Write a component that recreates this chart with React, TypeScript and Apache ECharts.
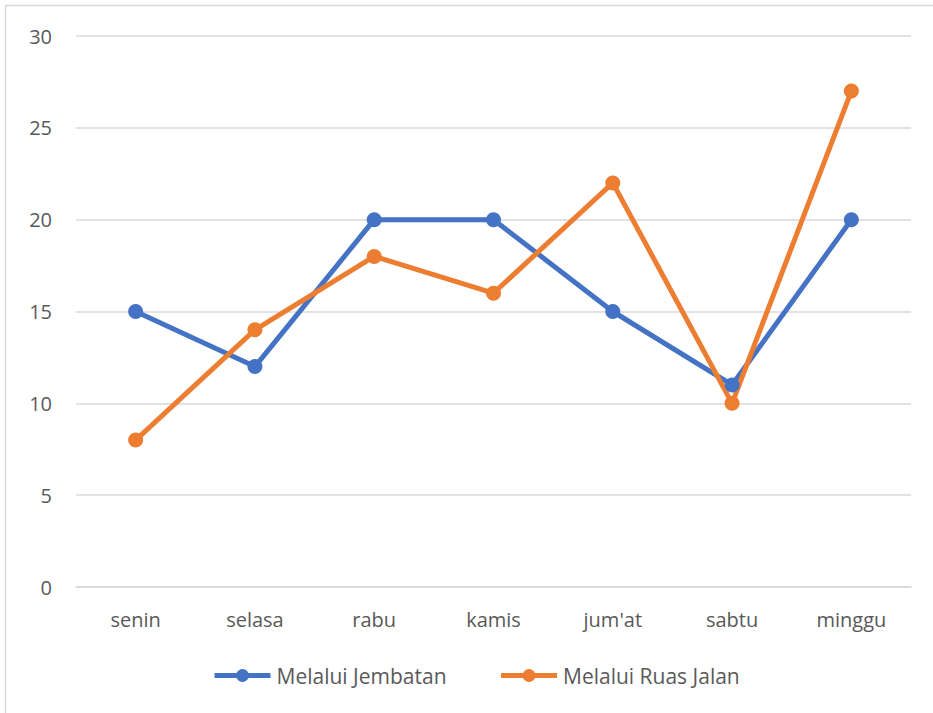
import React, { useEffect, useRef } from "react";
import * as echarts from "echarts";

const categories = ["senin", "selasa", "rabu", "kamis", "jum'at", "sabtu", "minggu"];
const jembatan = [15, 12, 20, 20, 15, 11, 20];
const ruasJalan = [8, 14, 18, 16, 22, 10, 27];
const seriesNames = ["Melalui Jembatan", "Melalui Ruas Jalan"];

const FONT = "Open Sans";
const FS = 20;

export default function App() {
  const ref = useRef<HTMLDivElement>(null);
  useEffect(() => {
    if (!ref.current) return;
    const chart = echarts.init(ref.current, null, { renderer: "svg" });
    const mk = (name: string, data: number[], color: string) => ({
      name,
      type: "line",
      data,
      symbol: "circle",
      symbolSize: 15,
      itemStyle: { color },
      lineStyle: { color, width: 5 },
    });
    chart.setOption({
      animation: false,
      backgroundColor: "#ffffff",
      textStyle: { fontFamily: FONT },
      graphic: [
        {
          type: "rect",
          shape: { x: 5.5, y: 5.5, width: 960, height: 760 },
          style: { fill: "none", stroke: "#D9D9D9", lineWidth: 1.5 },
          silent: true,
        },
      ],
      grid: { left: 76, right: 22, top: 36, bottom: 126 },
      xAxis: {
        type: "category",
        data: categories,
        boundaryGap: true,
        axisLine: { show: true, lineStyle: { color: "#D9D9D9", width: 1.5 } },
        axisTick: { show: false },
        axisLabel: { color: "#595959", fontSize: FS, fontFamily: FONT, margin: 22 },
      },
      yAxis: {
        type: "value",
        min: 0,
        max: 30,
        interval: 5,
        axisLine: { show: false },
        axisTick: { show: false },
        splitLine: { lineStyle: { color: "#D9D9D9", width: 1.5 } },
        axisLabel: { color: "#595959", fontSize: FS, fontFamily: FONT, margin: 24 },
      },
      legend: {
        bottom: 22,
        left: 207,
        itemWidth: 56,
        itemHeight: 16,
        itemGap: 52,
        lineStyle: { width: 5 },
        textStyle: { color: "#595959", fontSize: 21, fontFamily: FONT, padding: [0, 0, 0, 1] },
        data: seriesNames,
      },
      series: [
        mk(seriesNames[0], jembatan, "#4472C4"),
        mk(seriesNames[1], ruasJalan, "#ED7D31"),
      ],
    });
    return () => chart.dispose();
  }, []);
  return (
    <div
      ref={ref}
      style={{ position: "absolute", left: 0, top: 0, width: 933, height: 713 }}
    />
  );
}
